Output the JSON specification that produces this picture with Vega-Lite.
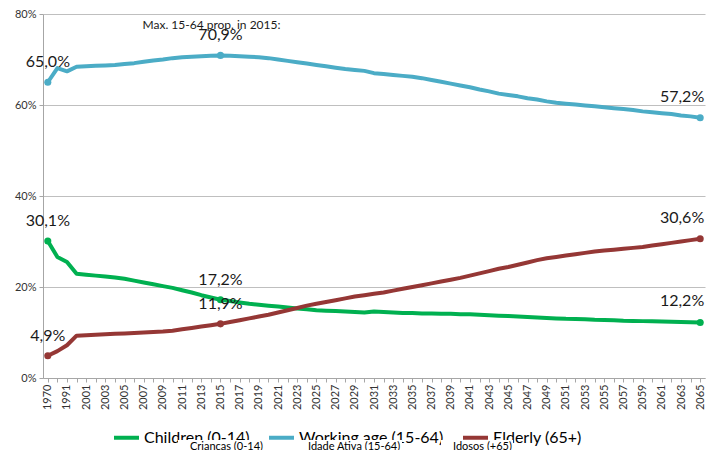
{
  "$schema": "https://vega.github.io/schema/vega-lite/v6.json",
  "width": 662,
  "height": 364,
  "autosize": {"type": "none"},
  "padding": {"left": 43, "top": 14, "right": 12, "bottom": 72},
  "background": "white",
  "config": {
    "font": "Lato",
    "view": {"stroke": null},
    "axis": {"labelFont": "Lato", "labelColor": "#333333", "domainColor": "#A6A6A6", "tickColor": "#A6A6A6", "gridColor": "#BFBFBF", "title": null}
  },
  "datasets": {
    "main": [
      {"year":"1970","C":30.1,"W":65.0,"E":4.9},
      {"year":"1981","C":26.6,"W":68.1,"E":5.9},
      {"year":"1991","C":25.5,"W":67.4,"E":7.2},
      {"year":"2000","C":22.9,"W":68.4,"E":9.3},
      {"year":"2001","C":22.7,"W":68.5,"E":9.4},
      {"year":"2002","C":22.5,"W":68.6,"E":9.5},
      {"year":"2003","C":22.3,"W":68.7,"E":9.6},
      {"year":"2004","C":22.1,"W":68.8,"E":9.7},
      {"year":"2005","C":21.8,"W":69.0,"E":9.8},
      {"year":"2006","C":21.4,"W":69.2,"E":9.9},
      {"year":"2007","C":21.0,"W":69.5,"E":10.0},
      {"year":"2008","C":20.6,"W":69.8,"E":10.1},
      {"year":"2009","C":20.2,"W":70.0,"E":10.2},
      {"year":"2010","C":19.8,"W":70.3,"E":10.4},
      {"year":"2011","C":19.3,"W":70.5,"E":10.7},
      {"year":"2012","C":18.8,"W":70.6,"E":11.0},
      {"year":"2013","C":18.2,"W":70.7,"E":11.3},
      {"year":"2014","C":17.7,"W":70.8,"E":11.6},
      {"year":"2015","C":17.2,"W":70.9,"E":11.9},
      {"year":"2016","C":16.9,"W":70.8,"E":12.3},
      {"year":"2017","C":16.6,"W":70.7,"E":12.7},
      {"year":"2018","C":16.3,"W":70.6,"E":13.1},
      {"year":"2019","C":16.1,"W":70.5,"E":13.5},
      {"year":"2020","C":15.9,"W":70.3,"E":13.9},
      {"year":"2021","C":15.7,"W":70.0,"E":14.4},
      {"year":"2022","C":15.5,"W":69.7,"E":14.9},
      {"year":"2023","C":15.3,"W":69.4,"E":15.4},
      {"year":"2024","C":15.1,"W":69.1,"E":15.9},
      {"year":"2025","C":14.9,"W":68.8,"E":16.3},
      {"year":"2026","C":14.8,"W":68.5,"E":16.7},
      {"year":"2027","C":14.7,"W":68.2,"E":17.1},
      {"year":"2028","C":14.6,"W":67.9,"E":17.5},
      {"year":"2029","C":14.5,"W":67.7,"E":17.9},
      {"year":"2030","C":14.4,"W":67.5,"E":18.2},
      {"year":"2031","C":14.6,"W":67.0,"E":18.5},
      {"year":"2032","C":14.5,"W":66.8,"E":18.8},
      {"year":"2033","C":14.4,"W":66.6,"E":19.2},
      {"year":"2034","C":14.3,"W":66.4,"E":19.6},
      {"year":"2035","C":14.3,"W":66.2,"E":20.0},
      {"year":"2036","C":14.2,"W":65.9,"E":20.4},
      {"year":"2037","C":14.2,"W":65.5,"E":20.8},
      {"year":"2038","C":14.1,"W":65.1,"E":21.2},
      {"year":"2039","C":14.1,"W":64.7,"E":21.6},
      {"year":"2040","C":14.0,"W":64.3,"E":22.0},
      {"year":"2041","C":14.0,"W":63.9,"E":22.5},
      {"year":"2042","C":13.9,"W":63.4,"E":23.0},
      {"year":"2043","C":13.8,"W":63.0,"E":23.5},
      {"year":"2044","C":13.7,"W":62.5,"E":24.0},
      {"year":"2045","C":13.6,"W":62.2,"E":24.4},
      {"year":"2046","C":13.5,"W":61.9,"E":24.9},
      {"year":"2047","C":13.4,"W":61.5,"E":25.4},
      {"year":"2048","C":13.3,"W":61.2,"E":25.9},
      {"year":"2049","C":13.2,"W":60.8,"E":26.3},
      {"year":"2050","C":13.1,"W":60.5,"E":26.6},
      {"year":"2051","C":13.0,"W":60.3,"E":26.9},
      {"year":"2052","C":12.95,"W":60.1,"E":27.2},
      {"year":"2053","C":12.9,"W":59.9,"E":27.5},
      {"year":"2054","C":12.8,"W":59.7,"E":27.8},
      {"year":"2055","C":12.75,"W":59.5,"E":28.0},
      {"year":"2056","C":12.7,"W":59.3,"E":28.2},
      {"year":"2057","C":12.6,"W":59.1,"E":28.4},
      {"year":"2058","C":12.55,"W":58.9,"E":28.6},
      {"year":"2059","C":12.5,"W":58.6,"E":28.8},
      {"year":"2060","C":12.45,"W":58.4,"E":29.1},
      {"year":"2061","C":12.4,"W":58.2,"E":29.4},
      {"year":"2062","C":12.35,"W":58.0,"E":29.7},
      {"year":"2063","C":12.3,"W":57.7,"E":30.0},
      {"year":"2064","C":12.25,"W":57.5,"E":30.3},
      {"year":"2065","C":12.2,"W":57.2,"E":30.6}
    ],
    "labels": [
      {"year":"1970","group":"C","value":30.1,"label":"30,1%"},
      {"year":"1970","group":"W","value":65.0,"label":"65,0%"},
      {"year":"1970","group":"E","value":4.9,"label":"4,9%"},
      {"year":"2015","group":"C","value":17.2,"label":"17,2%"},
      {"year":"2015","group":"W","value":70.9,"label":"70,9%"},
      {"year":"2015","group":"E","value":11.9,"label":"11,9%"},
      {"year":"2065","group":"C","value":12.2,"label":"12,2%"},
      {"year":"2065","group":"W","value":57.2,"label":"57,2%"},
      {"year":"2065","group":"E","value":30.6,"label":"30,6%"}
    ],
    "note": [
      {"year":"2015","value":70.9,"label":"Max. 15-64 prop. in 2015:"}
    ],
    "pt": [
      {"a":"Crianças (0-14)","b":"Idade Ativa (15-64)","c":"Idosos (+65)"}
    ]
  },
  "layer": [
    {
      "data": {"name": "main"},
      "transform": [{"fold": ["C", "W", "E"], "as": ["group", "value"]}],
      "mark": {"type": "line", "strokeWidth": 4, "strokeJoin": "round", "strokeCap": "round"},
      "encoding": {
        "x": {
          "field": "year", "type": "ordinal",
          "scale": {"type": "point", "padding": 0.5},
          "axis": {
            "labelAngle": 270, "labelFontSize": 11, "tickSize": 4, "labelPadding": 2, "grid": false,
            "labelOverlap": false,
            "labelExpr": "(datum.label=='1970'||datum.label=='1991'||(+datum.label>=2001 && (+datum.label)%2==1)) ? datum.label : ''"
          }
        },
        "y": {
          "field": "value", "type": "quantitative",
          "scale": {"domain": [0, 80], "nice": false},
          "axis": {"values": [0, 20, 40, 60, 80], "labelExpr": "datum.value + '%'", "labelFontSize": 11, "tickSize": 4, "labelPadding": 3, "grid": true}
        },
        "color": {
          "field": "group", "type": "nominal",
          "scale": {"domain": ["C", "W", "E"], "range": ["#00B050", "#4BACC6", "#953735"]},
          "legend": {
            "orient": "none", "legendX": 69, "legendY": 409, "direction": "horizontal", "title": null, "zindex": 0,
            "symbolType": "stroke", "symbolSize": 625, "symbolStrokeWidth": 4,
            "labelFontSize": 16, "labelColor": "#000000", "labelOffset": 3, "columnPadding": 11,
            "labelExpr": "datum.label=='C' ? 'Children (0-14)' : datum.label=='W' ? 'Working age (15-64)' : 'Elderly (65+)'"
          }
        }
      }
    },
    {
      "data": {"name": "labels"},
      "mark": {"type": "point", "filled": true, "size": 50, "opacity": 1},
      "encoding": {
        "x": {"field": "year", "type": "ordinal"},
        "y": {"field": "value", "type": "quantitative"},
        "color": {"field": "group", "type": "nominal"}
      }
    },
    {
      "data": {"name": "labels"},
      "transform": [{"filter": "datum.year != '2065'"}],
      "mark": {"type": "text", "fontSize": 16, "color": "#1a1a1a", "align": "center", "baseline": "middle", "dy": -20},
      "encoding": {
        "x": {"field": "year", "type": "ordinal"},
        "y": {"field": "value", "type": "quantitative"},
        "text": {"field": "label"}
      }
    },
    {
      "data": {"name": "labels"},
      "transform": [{"filter": "datum.year == '2065'"}],
      "mark": {"type": "text", "fontSize": 16, "color": "#1a1a1a", "align": "right", "baseline": "middle", "dx": 4, "dy": -21},
      "encoding": {
        "x": {"field": "year", "type": "ordinal"},
        "y": {"field": "value", "type": "quantitative"},
        "text": {"field": "label"}
      }
    },
    {
      "data": {"name": "note"},
      "mark": {"type": "text", "fontSize": 12, "color": "#1a1a1a", "align": "center", "baseline": "middle", "dx": -9, "dy": -30},
      "encoding": {
        "x": {"field": "year", "type": "ordinal"},
        "y": {"field": "value", "type": "quantitative"},
        "text": {"field": "label"}
      }
    },
    {
      "data": {"name": "pt"},
      "mark": {"type": "point", "opacity": 0},
      "encoding": {
        "fill": {"field": "a", "type": "nominal", "legend": {"orient": "none", "legendX": 135, "legendY": 426, "zindex": 5, "title": null, "fillColor": "white", "padding": 1, "symbolSize": 0, "symbolOpacity": 0, "symbolStrokeWidth": 0, "labelOffset": 0, "labelFontSize": 11, "labelColor": "#000000"}}
      }
    },
    {
      "data": {"name": "pt"},
      "mark": {"type": "point", "opacity": 0},
      "encoding": {
        "stroke": {"field": "b", "type": "nominal", "legend": {"orient": "none", "legendX": 253, "legendY": 426, "zindex": 5, "title": null, "fillColor": "white", "padding": 1, "symbolSize": 0, "symbolOpacity": 0, "symbolStrokeWidth": 0, "labelOffset": 0, "labelFontSize": 11, "labelColor": "#000000"}}
      }
    },
    {
      "data": {"name": "pt"},
      "mark": {"type": "point", "opacity": 0},
      "encoding": {
        "shape": {"field": "c", "type": "nominal", "legend": {"orient": "none", "legendX": 398, "legendY": 426, "zindex": 5, "title": null, "fillColor": "white", "padding": 1, "symbolSize": 0, "symbolOpacity": 0, "symbolStrokeWidth": 0, "labelOffset": 0, "labelFontSize": 11, "labelColor": "#000000"}}
      }
    }
  ]
}
